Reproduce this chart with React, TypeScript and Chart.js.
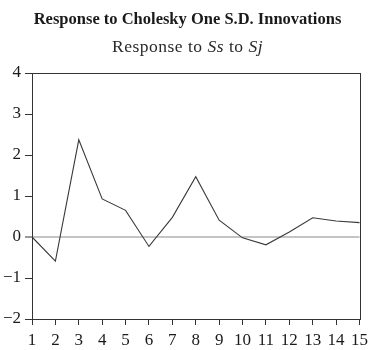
import React, { useEffect, useRef } from "react";
import { Chart, registerables } from "chart.js";

Chart.register(...registerables);

const periods = ["1", "2", "3", "4", "5", "6", "7", "8", "9", "10", "11", "12", "13", "14", "15"];
const responseValues = [0, -0.59, 2.37, 0.93, 0.65, -0.23, 0.48, 1.47, 0.41, -0.02, -0.19, 0.12, 0.47, 0.39, 0.35];
const yTickValues = [-2, -1, 0, 1, 2, 3, 4];
const titleText = "Response to Cholesky One S.D. Innovations";
const subtitleParts = [
  { text: "Response to ", italic: false },
  { text: "Ss", italic: true },
  { text: " to ", italic: false },
  { text: "Sj", italic: true },
];

const SERIF = "'Liberation Serif', 'DejaVu Serif', serif";

const headerPlugin = {
  id: "header",
  afterDraw(chart: any) {
    const ctx = chart.ctx;
    const cx = chart.width / 2 + 1;
    ctx.save();
    ctx.fillStyle = "#1a1a1a";
    ctx.textBaseline = "alphabetic";
    ctx.textAlign = "center";
    ctx.font = `bold 16.5px ${SERIF}`;
    ctx.fillText(titleText, cx, 24);
    // subtitle with mixed styles
    ctx.fillStyle = "#2a2a2a";
    ctx.textAlign = "left";
    try {
      (ctx as any).letterSpacing = "0.5px";
    } catch (e) {}
    const fonts = subtitleParts.map((p) => (p.italic ? `italic 17.5px ${SERIF}` : `17.5px ${SERIF}`));
    let total = 0;
    const widths = subtitleParts.map((p, i) => {
      ctx.font = fonts[i];
      const w = ctx.measureText(p.text).width;
      total += w;
      return w;
    });
    let x = cx - total / 2;
    subtitleParts.forEach((p, i) => {
      ctx.font = fonts[i];
      ctx.fillText(p.text, x, 52);
      x += widths[i];
    });
    ctx.restore();
  },
};

const framePlugin = {
  id: "frame",
  afterDatasetsDraw(chart: any) {
    const { ctx, chartArea } = chart;
    ctx.save();
    ctx.strokeStyle = "#333";
    ctx.lineWidth = 1;
    ctx.strokeRect(
      Math.round(chartArea.left) + 0.5,
      Math.round(chartArea.top) + 0.5,
      Math.round(chartArea.right - chartArea.left),
      Math.round(chartArea.bottom - chartArea.top)
    );
    ctx.restore();
  },
};

export default function App() {
  const canvasRef = useRef<HTMLCanvasElement | null>(null);

  useEffect(() => {
    if (!canvasRef.current) return;
    const chart = new Chart(canvasRef.current, {
      type: "line",
      data: {
        labels: periods,
        datasets: [
          {
            data: responseValues,
            borderColor: "#3a3a3a",
            borderWidth: 1.1,
            pointRadius: 0,
            tension: 0,
            fill: false,
          },
        ],
      },
      plugins: [headerPlugin, framePlugin],
      options: {
        animation: false,
        responsive: true,
        maintainAspectRatio: false,
        layout: { padding: { top: 73, right: 13, left: 0, bottom: 0 } },
        plugins: {
          legend: { display: false },
          tooltip: { enabled: false },
          title: { display: false },
        },
        scales: {
          x: {
            type: "category",
            offset: false,
            grid: {
              display: true,
              drawOnChartArea: false,
              drawTicks: true,
              tickLength: 6,
              color: "#333",
              offset: false,
            },
            border: { display: true, color: "#333" },
            ticks: {
              color: "#1a1a1a",
              font: { family: SERIF, size: 17 },
              padding: 5,
              maxRotation: 0,
              autoSkip: false,
            },
            afterFit(scale: any) {
              scale.height = 31;
            },
          },
          y: {
            type: "linear",
            min: -2,
            max: 4,
            afterBuildTicks(scale: any) {
              scale.ticks = yTickValues.map((v) => ({ value: v }));
            },
            grid: {
              display: true,
              drawOnChartArea: true,
              drawTicks: true,
              tickLength: 7,
              color: (c: any) => (c.tick && c.tick.value === 0 ? "#c4c4c4" : "rgba(0,0,0,0)"),
              lineWidth: (c: any) => (c.tick && c.tick.value === 0 ? 2 : 1),
              tickColor: "#333",
              tickWidth: 1,
            },
            border: { display: true, color: "#333" },
            ticks: {
              color: "#1a1a1a",
              font: { family: SERIF, size: 17 },
              padding: 4,
              callback: (v: any) => (Number(v) < 0 ? "\u2212" + Math.abs(Number(v)) : String(v)),
            },
            afterFit(scale: any) {
              scale.width = 32;
            },
          },
        },
      },
    });
    return () => chart.destroy();
  }, []);

  return (
    <div style={{ position: "fixed", left: 0, top: 0, width: 373, height: 350, background: "#fff" }}>
      <canvas ref={canvasRef} />
    </div>
  );
}
